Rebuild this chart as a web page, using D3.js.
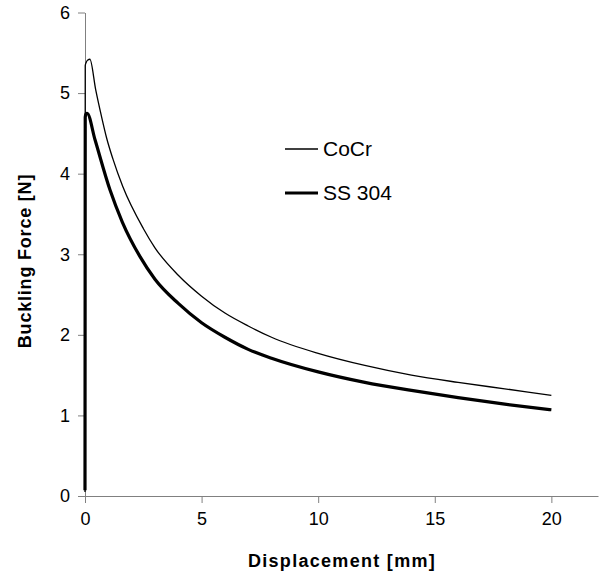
<!DOCTYPE html>
<html>
<head>
<meta charset="utf-8">
<script src="https://cdn.jsdelivr.net/npm/d3@7"></script>
<style>
  body { margin: 0; background: #fff; }
  text { font-family: "Liberation Sans", Arial, sans-serif; }
</style>
</head>
<body>
<script>
// displacement [mm] and buckling force [N]
const cocrX = [0, 0.01, 0.05, 0.12, 0.21, 0.46, 0.7, 0.93, 1.2, 1.62, 2.5, 3, 4, 5, 6, 7, 8, 10, 12, 14, 16, 18, 20];
const cocrY = [0.05, 5.34, 5.38, 5.41, 5.42, 5.04, 4.72, 4.44, 4.18, 3.84, 3.32, 3.08, 2.74, 2.48, 2.27, 2.11, 1.97, 1.77, 1.62, 1.50, 1.41, 1.33, 1.25];

const ssX = [0, 0.01, 0.04, 0.09, 0.43, 1.07, 1.6, 2.36, 3, 4, 5, 6, 7, 8, 10, 12, 14, 16, 18, 20];
const ssY = [0.07, 4.70, 4.74, 4.75, 4.42, 3.80, 3.40, 2.97, 2.69, 2.39, 2.15, 1.97, 1.82, 1.71, 1.54, 1.41, 1.31, 1.22, 1.14, 1.07];

const xTicks = [0, 5, 10, 15, 20];
const yTicks = [0, 1, 2, 3, 4, 5, 6];
const seriesNames = ["CoCr", "SS 304"];

function init() {
    var w = 601;
    var h = 577;

    var x = d3.scaleLinear().domain([0, 22]).range([85, 598]);
    var y = d3.scaleLinear().domain([0, 6]).range([496, 12.5]);

    var svg = d3.select("body")
        .append("svg")
        .attr("width", w)
        .attr("height", h);

    var xAxis = svg.append("g")
        .attr("transform", "translate(0," + y(0) + ")")
        .call(d3.axisBottom(x).tickValues(xTicks).tickFormat(d3.format("d"))
            .tickSize(7).tickPadding(9).tickSizeOuter(0));

    var yAxis = svg.append("g")
        .attr("transform", "translate(" + x(0) + ",0)")
        .call(d3.axisLeft(y).tickValues(yTicks).tickFormat(d3.format("d"))
            .tickSize(7).tickPadding(8).tickSizeOuter(0));

    [xAxis, yAxis].forEach(function(g) {
        g.select(".domain").attr("stroke", "#808080");
        g.selectAll(".tick line").attr("stroke", "#808080");
        g.selectAll(".tick text")
            .attr("fill", "#000")
            .style("font-size", "18px")
            .style("font-family", "Liberation Sans, Arial, sans-serif");
    });

    var line = d3.line()
        .x(function(d) { return x(d[0]); })
        .y(function(d) { return y(d[1]); })
        .curve(d3.curveMonotoneX);

    var cocr = cocrX.map(function(v, i) { return [v, cocrY[i]]; });
    var ss = ssX.map(function(v, i) { return [v, ssY[i]]; });

    svg.append("path")
        .datum(cocr)
        .attr("fill", "none")
        .attr("stroke", "#000")
        .attr("stroke-width", 1.3)
        .attr("d", line);

    svg.append("path")
        .datum(ss)
        .attr("fill", "none")
        .attr("stroke", "#000")
        .attr("stroke-width", 3.2)
        .attr("d", line);

    // legend
    var legend = svg.selectAll("g.legend")
        .data(seriesNames)
        .enter()
        .append("g")
        .attr("class", "legend")
        .attr("transform", function(d, i) { return "translate(285," + (149 + i * 44) + ")"; });

    legend.append("line")
        .attr("x1", 0)
        .attr("x2", 33)
        .attr("stroke", "#000")
        .attr("stroke-width", function(d, i) { return i === 0 ? 1.3 : 3.2; });

    legend.append("text")
        .attr("x", 38)
        .attr("dy", "0.35em")
        .style("font-size", "21px")
        .text(function(d) { return d; });

    svg.append("text")
        .attr("x", 342)
        .attr("y", 567)
        .attr("text-anchor", "middle")
        .style("font-size", "18px")
        .style("font-weight", "bold")
        .style("letter-spacing", "1.3px")
        .text("Displacement [mm]");

    svg.append("text")
        .attr("transform", "translate(31,261) rotate(-90)")
        .attr("text-anchor", "middle")
        .style("font-size", "18px")
        .style("font-weight", "bold")
        .style("letter-spacing", "0.8px")
        .text("Buckling Force [N]");
}
window.onload = init;
</script>
</body>
</html>
